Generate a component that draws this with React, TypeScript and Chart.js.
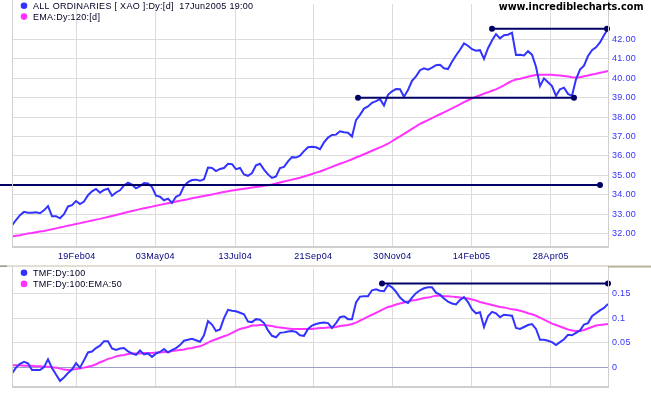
import React, { useEffect, useRef } from 'react';
import { Chart, registerables } from 'chart.js';
Chart.register(...registerables);

// ---------- data (one sample every ~2.6 trading days, index = sample number) ----------
const xTickLabels = ['19Feb04', '03May04', '13Jul04', '21Sep04', '30Nov04', '14Feb05', '28Apr05'];
const xTickIndex = [16.2, 35.8, 55.8, 75.3, 95.1, 114.9, 134.7];
const priceTicks = [32, 33, 34, 35, 36, 37, 38, 39, 40, 41, 42];
const tmfTicks = [0, 0.05, 0.1, 0.15];

const priceName = 'ALL ORDINARIES [ XAO ]:Dy:[d]  17Jun2005 19:00';
const priceEmaName = 'EMA:Dy:120:[d]';
const tmfName = 'TMF:Dy:100';
const tmfEmaName = 'TMF:Dy:100:EMA:50';
const watermark = 'www.incrediblecharts.com';

const price = [
  32.42, 32.70, 32.95, 33.12, 33.08, 33.08, 33.10, 33.05, 33.20, 33.42,
  32.90, 32.90, 32.79, 33.00, 33.40, 33.47, 33.68, 33.52, 33.65, 33.98,
  34.18, 34.30, 34.11, 34.25, 34.31, 33.95, 34.12, 34.23, 34.48, 34.62,
  34.52, 34.33, 34.45, 34.60, 34.58, 34.40, 33.95, 33.90, 33.72, 33.80,
  33.58, 33.90, 34.00, 34.45, 34.65, 34.76, 34.78, 34.72, 34.80, 35.40,
  35.38, 35.22, 35.33, 35.38, 35.60, 35.58, 35.32, 35.38, 35.05, 34.98,
  35.12, 35.52, 35.60, 35.30, 35.05, 34.87, 34.94, 35.38, 35.44, 35.72,
  35.94, 35.92, 36.02, 36.25, 36.45, 36.48, 36.45, 36.35, 36.70, 36.95,
  37.08, 37.10, 37.27, 37.22, 37.20, 37.00, 37.85, 38.12, 38.44, 38.55,
  38.74, 38.83, 38.93, 38.60, 39.15, 39.33, 39.45, 39.44, 39.05, 39.40,
  39.87, 40.10, 40.42, 40.52, 40.45, 40.55, 40.68, 40.70, 40.52, 40.48,
  40.85, 41.18, 41.47, 41.80, 41.68, 41.50, 41.42, 41.45, 41.00, 41.55,
  41.95, 42.28, 42.06, 42.22, 42.25, 42.35, 41.20, 41.21, 41.18, 41.40,
  41.22, 40.60, 39.60, 40.00, 39.80, 39.60, 39.10, 39.44, 39.52, 39.20,
  39.10, 39.95, 40.45, 40.65, 41.15, 41.45, 41.60, 41.85, 42.22, 42.56,
];

const priceEma = [
  31.85, 31.89, 31.92, 31.96, 32.00, 32.03, 32.07, 32.11, 32.14, 32.18,
  32.22, 32.27, 32.32, 32.36, 32.41, 32.45, 32.50, 32.54, 32.59, 32.63,
  32.67, 32.72, 32.76, 32.81, 32.86, 32.91, 32.96, 33.01, 33.06, 33.11,
  33.16, 33.21, 33.26, 33.31, 33.35, 33.39, 33.44, 33.48, 33.52, 33.56,
  33.60, 33.65, 33.69, 33.73, 33.77, 33.82, 33.86, 33.90, 33.94, 33.98,
  34.02, 34.06, 34.10, 34.14, 34.18, 34.22, 34.25, 34.28, 34.31, 34.34,
  34.37, 34.40, 34.43, 34.46, 34.49, 34.53, 34.58, 34.63, 34.68, 34.73,
  34.78, 34.83, 34.88, 34.94, 35.01, 35.07, 35.14, 35.20, 35.28, 35.36,
  35.44, 35.52, 35.60, 35.67, 35.75, 35.83, 35.92, 36.00, 36.09, 36.18,
  36.27, 36.36, 36.44, 36.53, 36.63, 36.76, 36.89, 37.01, 37.14, 37.27,
  37.40, 37.52, 37.65, 37.75, 37.85, 37.95, 38.05, 38.15, 38.25, 38.35,
  38.45, 38.56, 38.66, 38.77, 38.87, 38.97, 39.06, 39.13, 39.21, 39.28,
  39.36, 39.43, 39.53, 39.64, 39.76, 39.87, 39.94, 39.98, 40.03, 40.08,
  40.13, 40.17, 40.18, 40.18, 40.18, 40.18, 40.16, 40.14, 40.12, 40.09,
  40.06, 40.04, 40.06, 40.11, 40.15, 40.20, 40.24, 40.29, 40.33, 40.38,
];

const tmf = [
  -0.013, -0.001, 0.007, 0.011, 0.008, -0.006, -0.006, -0.006, 0.000, 0.016,
  -0.002, -0.015, -0.028, -0.021, -0.012, -0.005, 0.008, -0.001, 0.014, 0.030,
  0.032, 0.039, 0.044, 0.053, 0.053, 0.038, 0.035, 0.038, 0.039, 0.032,
  0.028, 0.025, 0.034, 0.026, 0.028, 0.021, 0.028, 0.031, 0.037, 0.030,
  0.035, 0.039, 0.045, 0.054, 0.056, 0.058, 0.055, 0.052, 0.065, 0.094,
  0.087, 0.074, 0.077, 0.100, 0.117, 0.115, 0.114, 0.111, 0.108, 0.093,
  0.092, 0.098, 0.097, 0.090, 0.075, 0.064, 0.061, 0.070, 0.071, 0.073,
  0.074, 0.072, 0.065, 0.064, 0.078, 0.085, 0.088, 0.090, 0.091, 0.090,
  0.080, 0.090, 0.102, 0.104, 0.098, 0.098, 0.132, 0.144, 0.145, 0.145,
  0.157, 0.159, 0.156, 0.155, 0.168, 0.163, 0.154, 0.142, 0.135, 0.131,
  0.142, 0.151, 0.157, 0.161, 0.163, 0.163, 0.152, 0.148, 0.140, 0.134,
  0.130, 0.128, 0.137, 0.143, 0.133, 0.118, 0.110, 0.112, 0.082, 0.104,
  0.113, 0.110, 0.102, 0.107, 0.106, 0.105, 0.080, 0.078, 0.082, 0.086,
  0.088, 0.078, 0.056, 0.056, 0.054, 0.051, 0.045, 0.051, 0.057, 0.066,
  0.065, 0.070, 0.075, 0.087, 0.090, 0.104, 0.110, 0.116, 0.121, 0.129,
];

const tmfEma = [
  0.004, 0.004, 0.004, 0.003, 0.003, 0.003, 0.002, 0.002, 0.001, 0.001,
  0.000, -0.001, -0.003, -0.005, -0.006, -0.005, -0.004, -0.003, -0.001, 0.001,
  0.003, 0.006, 0.010, 0.013, 0.017, 0.019, 0.022, 0.024, 0.025, 0.027,
  0.028, 0.028, 0.028, 0.029, 0.029, 0.029, 0.030, 0.030, 0.031, 0.031,
  0.033, 0.034, 0.035, 0.036, 0.038, 0.039, 0.041, 0.0425, 0.046, 0.050,
  0.054, 0.057, 0.060, 0.063, 0.066, 0.070, 0.074, 0.078, 0.080, 0.082,
  0.085, 0.085, 0.086, 0.086, 0.085, 0.084, 0.082, 0.081, 0.080, 0.079,
  0.078, 0.078, 0.078, 0.078, 0.078, 0.078, 0.079, 0.080, 0.080, 0.081,
  0.081, 0.082, 0.084, 0.085, 0.086, 0.088, 0.091, 0.095, 0.099, 0.103,
  0.107, 0.111, 0.115, 0.119, 0.123, 0.125, 0.128, 0.130, 0.132, 0.134,
  0.136, 0.137, 0.139, 0.141, 0.142, 0.144, 0.146, 0.146, 0.145, 0.145,
  0.144, 0.143, 0.142, 0.141, 0.140, 0.138, 0.136, 0.133, 0.131, 0.129,
  0.127, 0.125, 0.123, 0.122, 0.120, 0.118, 0.117, 0.115, 0.113, 0.110,
  0.108, 0.105, 0.101, 0.097, 0.093, 0.089, 0.086, 0.083, 0.080, 0.077,
  0.075, 0.074, 0.074, 0.076, 0.079, 0.082, 0.085, 0.086, 0.087, 0.088,
];

// trend lines: start index, end index, level
const priceTrendStart = [-3, 86.5, 120];
const priceTrendEnd = [147, 140.5, 148.75];
const priceTrendLevel = [34.5, 39.0, 42.55];
const priceTrendStartDot = [0, 3, 3];
const tmfTrendStart = [92.5];
const tmfTrendEnd = [149];
const tmfTrendLevel = [0.171];

// ---------- styling ----------
const BLUE = '#3333ff';
const MAGENTA = '#ff33ff';
const NAVY = '#000066';
const GRID = '#dcdcdc';
const FONT = '"Liberation Sans", Arial, sans-serif';

function drawKey(ctx: CanvasRenderingContext2D, y: number, color: string, text: string) {
  ctx.fillStyle = color;
  ctx.beginPath();
  ctx.arc(24, y, 3.3, 0, Math.PI * 2);
  ctx.fill();
  ctx.fillStyle = '#000022';
  ctx.font = '9px ' + FONT;
  ctx.textAlign = 'left';
  ctx.textBaseline = 'middle';
  ctx.fillText(text, 33, y + 0.5);
}

function drawFrame(ctx: CanvasRenderingContext2D, a: any, top: number) {
  ctx.strokeStyle = '#cfcfcf';
  ctx.lineWidth = 1;
  ctx.beginPath();
  ctx.moveTo(a.left + 0.5, top);
  ctx.lineTo(a.left + 0.5, a.bottom);
  ctx.moveTo(a.right + 0.5, top);
  ctx.lineTo(a.right + 0.5, a.bottom);
  ctx.stroke();
  ctx.lineWidth = 2;
  ctx.beginPath();
  ctx.moveTo(a.left, a.bottom);
  ctx.lineTo(a.right + 1, a.bottom);
  ctx.stroke();
}

const toPts = (arr: number[]) => arr.map((v, i) => ({ x: i, y: v }));

export default function App() {
  const topRef = useRef<HTMLCanvasElement>(null);
  const botRef = useRef<HTMLCanvasElement>(null);

  useEffect(() => {
    const topDecor = {
      id: 'topDecor',
      beforeDraw(chart: any) {
        chart.ctx.letterSpacing = '0.3px';
      },
      afterDraw(chart: any) {
        const ctx = chart.ctx as CanvasRenderingContext2D;
        ctx.save();
        drawFrame(ctx, chart.chartArea, 0);
        drawKey(ctx, 5.8, BLUE, priceName);
        drawKey(ctx, 16.6, MAGENTA, priceEmaName);
        (ctx as any).letterSpacing = '0px';
        ctx.fillStyle = '#000000';
        ctx.font = 'bold 9.7px "DejaVu Sans", Verdana, sans-serif';
        ctx.textAlign = 'right';
        ctx.textBaseline = 'middle';
        ctx.fillText(watermark, 643.5, 7);
        ctx.restore();
        (ctx as any).letterSpacing = '0.3px';
      },
    };

    const botDecor = {
      id: 'botDecor',
      beforeDraw(chart: any) {
        chart.ctx.letterSpacing = '0.3px';
      },
      afterDraw(chart: any) {
        const ctx = chart.ctx as CanvasRenderingContext2D;
        ctx.save();
        drawFrame(ctx, chart.chartArea, 2);
        ctx.fillStyle = '#e2dfd2';
        ctx.fillRect(0, 0, 651, 2);
        ctx.fillStyle = '#b5ad98';
        ctx.fillRect(608, 1, 43, 1.5);
        ctx.fillStyle = '#9a9a9a';
        ctx.fillRect(0, 0.5, 7, 1.5);
        drawKey(ctx, 7.8, BLUE, tmfName);
        drawKey(ctx, 18.9, MAGENTA, tmfEmaName);
        ctx.restore();
      },
    };

    const trendSet = (x0: number, x1: number, y: number, r0: number) => ({
      data: [{ x: x0, y }, { x: x1, y }],
      borderColor: NAVY,
      backgroundColor: NAVY,
      borderWidth: 2,
      pointRadius: [r0, 3],
      pointBackgroundColor: NAVY,
      pointBorderWidth: 0,
      clip: false as any,
    });

    const xScale = (labels: boolean, h: number) => ({
      type: 'linear' as const,
      min: 0,
      max: 149,
      afterBuildTicks: (s: any) => {
        s.ticks = xTickIndex.map((v) => ({ value: v }));
      },
      afterFit: (s: any) => {
        s.height = h;
        s.paddingLeft = 0;
        s.paddingRight = 0;
      },
      ticks: {
        display: labels,
        autoSkip: false,
        maxRotation: 0,
        padding: 4,
        color: '#000080',
        font: { size: 9, family: FONT },
        callback: (_v: any, i: number) => xTickLabels[i],
      },
      grid: { color: GRID, drawTicks: false },
      border: { display: false },
    });

    const top = new Chart(topRef.current as HTMLCanvasElement, {
      type: 'line',
      data: {
        datasets: [
          ...priceTrendLevel.map((lv, i) =>
            trendSet(priceTrendStart[i], priceTrendEnd[i], lv, priceTrendStartDot[i])
          ),
          {
            data: toPts(price),
            borderColor: BLUE,
            borderWidth: 2,
            pointRadius: 0,
          },
          {
            data: toPts(priceEma),
            borderColor: MAGENTA,
            borderWidth: 2,
            pointRadius: 0,
          },
        ] as any,
      },
      options: {
        responsive: false,
        animation: false,
        devicePixelRatio: 1,
        layout: { padding: { left: 12, top: 0, right: 0, bottom: 0 } },
        plugins: { legend: { display: false }, tooltip: { enabled: false } },
        elements: { line: { tension: 0 } },
        scales: {
          x: xScale(true, 18) as any,
          y: {
            position: 'right',
            min: 31.31,
            max: 43.83,
            afterBuildTicks: (s: any) => {
              s.ticks = priceTicks.map((v) => ({ value: v }));
            },
            afterFit: (s: any) => {
              s.width = 43;
              s.paddingTop = 0;
              s.paddingBottom = 0;
            },
            ticks: {
              padding: 4,
              color: BLUE,
              font: { size: 9, family: FONT },
              callback: (v: any) => Number(v).toFixed(2),
            },
            grid: { color: GRID, drawTicks: false },
            border: { display: false },
          },
        },
      },
      plugins: [topDecor],
    });

    const bot = new Chart(botRef.current as HTMLCanvasElement, {
      type: 'line',
      data: {
        datasets: [
          ...tmfTrendLevel.map((lv, i) => trendSet(tmfTrendStart[i], tmfTrendEnd[i], lv, 3)),
          {
            data: toPts(tmf),
            borderColor: BLUE,
            borderWidth: 2,
            pointRadius: 0,
          },
          {
            data: toPts(tmfEma),
            borderColor: MAGENTA,
            borderWidth: 2,
            pointRadius: 0,
          },
        ] as any,
      },
      options: {
        responsive: false,
        animation: false,
        devicePixelRatio: 1,
        layout: { padding: { left: 12, top: 3, right: 0, bottom: 0 } },
        plugins: { legend: { display: false }, tooltip: { enabled: false } },
        elements: { line: { tension: 0 } },
        scales: {
          x: xScale(false, 8) as any,
          y: {
            position: 'right',
            min: -0.0405,
            max: 0.2004,
            afterBuildTicks: (s: any) => {
              s.ticks = tmfTicks.map((v) => ({ value: v }));
            },
            afterFit: (s: any) => {
              s.width = 43;
              s.paddingTop = 0;
              s.paddingBottom = 0;
            },
            ticks: {
              padding: 4,
              color: BLUE,
              font: { size: 9, family: FONT },
              callback: (v: any) => String(Number(v)),
            },
            grid: {
              color: (c: any) => (c.tick && c.tick.value === 0 ? '#9d9dcc' : GRID),
              drawTicks: false,
            },
            border: { display: false },
          },
        },
      },
      plugins: [botDecor],
    });

    return () => {
      top.destroy();
      bot.destroy();
    };
  }, []);

  return (
    <div style={{ position: 'fixed', left: 0, top: 0, width: 651, height: 395, background: '#ffffff' }}>
      <canvas
        ref={topRef}
        width={651}
        height={265}
        style={{ position: 'absolute', left: 0, top: 0, width: 651, height: 265 }}
      />
      <canvas
        ref={botRef}
        width={651}
        height={130}
        style={{ position: 'absolute', left: 0, top: 265, width: 651, height: 130 }}
      />
    </div>
  );
}
